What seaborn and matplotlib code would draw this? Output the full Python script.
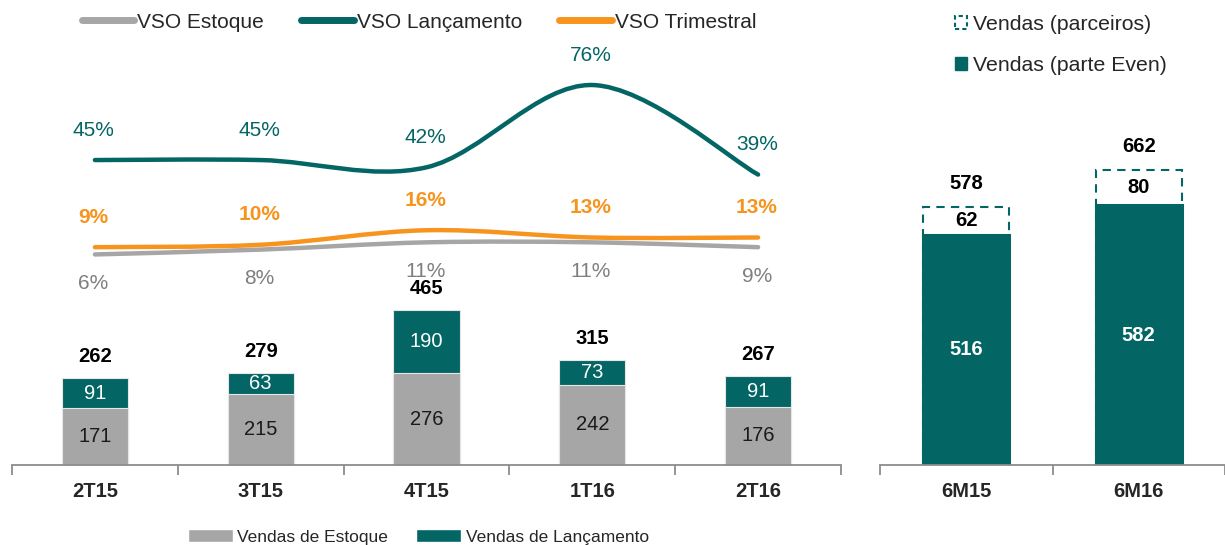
import numpy as np
import pandas as pd
import matplotlib
matplotlib.use("Agg")
import matplotlib.pyplot as plt
import seaborn as sns
from matplotlib.path import Path
from matplotlib.patches import PathPatch, Patch
from matplotlib.lines import Line2D

# --- data ---
quarters = ["2T15", "3T15", "4T15", "1T16", "2T16"]
vendas_estoque = [171, 215, 276, 242, 176]
vendas_lancamento = [91, 63, 190, 73, 91]
vendas_total = [262, 279, 465, 315, 267]   # as printed (rounded) in the source
vso_estoque = [6, 8, 11, 11, 9]
vso_lancamento = [45, 45, 42, 76, 39]
vso_trimestral = [9, 10, 16, 13, 13]

semesters = ["6M15", "6M16"]
vendas_even = [516, 582]
vendas_parceiros = [62, 80]
vendas_semestre = [578, 662]

TEAL = "#036564"
GRAY = "#A6A6A6"
ORANGE = "#F7941D"
PCT_GRAY = "#7F7F7F"

sns.set_style("white")
plt.rcParams["font.family"] = ["Liberation Sans", "DejaVu Sans"]

W, H = 1225, 545
fig = plt.figure(figsize=(W / 100, H / 100), dpi=100)


def fig_box(x0, y_top, x1, y_bottom):
    return [x0 / W, 1 - y_bottom / H, (x1 - x0) / W, (y_bottom - y_top) / H]


def smooth_line(ax, xs, ys, color, lw, z):
    # Excel-like smoothed line: Catmull-Rom segments as cubic Bezier curves
    n = len(xs)
    verts = [(xs[0], ys[0])]
    codes = [Path.MOVETO]
    for i in range(n - 1):
        a = max(i - 1, 0)
        b = min(i + 2, n - 1)
        c1 = (xs[i] + (xs[i + 1] - xs[a]) / 6, ys[i] + (ys[i + 1] - ys[a]) / 6)
        c2 = (xs[i + 1] - (xs[b] - xs[i]) / 6, ys[i + 1] - (ys[b] - ys[i]) / 6)
        verts += [c1, c2, (xs[i + 1], ys[i + 1])]
        codes += [Path.CURVE4] * 3
    patch = PathPatch(Path(verts, codes), facecolor="none", edgecolor=color,
                      lw=lw, capstyle="round", joinstyle="round", zorder=z)
    ax.add_patch(patch)


def style_cat_axis(ax, n):
    for s in ["top", "right", "left"]:
        ax.spines[s].set_visible(False)
    ax.spines["bottom"].set_color("#8C8C8C")
    ax.spines["bottom"].set_linewidth(1.3)
    ax.set_yticks([])
    ax.set_xticks(range(n))
    ax.set_xticks(np.arange(-0.5, n + 0.5, 1), minor=True)
    ax.tick_params(axis="x", which="major", bottom=False, pad=9, labelsize=14.5)
    ax.tick_params(axis="x", which="minor", bottom=True, length=7, width=1.3,
                   color="#8C8C8C", direction="out")
    for t in ax.get_xticklabels():
        t.set_fontweight("bold")
    ax.set_xlabel("")
    ax.set_ylabel("")


# --- left panel: quarterly sales + VSO ---
df_q = pd.DataFrame({
    "quarter": quarters,
    "estoque": vendas_estoque,
    "lancamento": vendas_lancamento,
    "total": vendas_total,
})
df_q["stack"] = df_q["estoque"] + df_q["lancamento"]

ax = fig.add_axes(fig_box(12, 10, 841, 465))
sns.barplot(data=df_q, x="quarter", y="stack", color=TEAL, saturation=1,
            width=0.4, edgecolor="#E6E6E6", linewidth=0.8, ax=ax)
sns.barplot(data=df_q, x="quarter", y="estoque", color=GRAY, saturation=1,
            width=0.4, edgecolor="#E6E6E6", linewidth=0.8, ax=ax)
ax.set_xlim(-0.5, 4.5)
ax.set_ylim(0, 1370)
style_cat_axis(ax, len(quarters))

for i, row in df_q.iterrows():
    ax.text(i, row["estoque"] / 2, str(row["estoque"]), ha="center", va="center",
            fontsize=14.5, color="#1A1A1A")
    ax.text(i, row["estoque"] + row["lancamento"] / 2, str(row["lancamento"]),
            ha="center", va="center", fontsize=14.5, color="white")
    ax.annotate(str(row["total"]), (i, row["stack"]), xytext=(0, 15.5),
                textcoords="offset points", ha="center", va="center",
                fontsize=14.5, fontweight="bold", color="black")

ax2 = ax.twinx()
ax2.set_ylim(-81, 107)
ax2.set_xlim(-0.5, 4.5)
ax2.axis("off")
xs = np.arange(len(quarters))
smooth_line(ax2, xs, vso_estoque, GRAY, 3.2, 3)
smooth_line(ax2, xs, vso_trimestral, ORANGE, 3.2, 4)
smooth_line(ax2, xs, vso_lancamento, TEAL, 3.2, 5)

for i in xs:
    ax2.annotate(f"{vso_lancamento[i]}%", (i, vso_lancamento[i]), xytext=(-1, 21.5),
                 textcoords="offset points", ha="center", va="center",
                 fontsize=15, color=TEAL)
    ax2.annotate(f"{vso_trimestral[i]}%", (i, vso_trimestral[i]), xytext=(-1, 21.5),
                 textcoords="offset points", ha="center", va="center",
                 fontsize=15, fontweight="bold", color=ORANGE)
    ax2.annotate(f"{vso_estoque[i]}%", (i, vso_estoque[i]), xytext=(-1, -21),
                 textcoords="offset points", ha="center", va="center",
                 fontsize=15, color=PCT_GRAY)

line_handles = [
    Line2D([], [], color=GRAY, lw=5, solid_capstyle="round"),
    Line2D([], [], color=TEAL, lw=5, solid_capstyle="round"),
    Line2D([], [], color=ORANGE, lw=5, solid_capstyle="round"),
]
fig.legend(line_handles, ["VSO Estoque", "VSO Lançamento", "VSO Trimestral"],
           loc="center left", bbox_to_anchor=(82 / W, 1 - 22 / H), ncol=3,
           frameon=False, fontsize=15, handlelength=2.5, handletextpad=0.15,
           columnspacing=1.8, borderaxespad=0, borderpad=0)

bar_handles = [Patch(facecolor=GRAY), Patch(facecolor=TEAL)]
fig.legend(bar_handles, ["Vendas de Estoque", "Vendas de Lançamento"],
           loc="center left", bbox_to_anchor=(188 / W, 1 - 537 / H), ncol=2,
           frameon=False, fontsize=12.5, handlelength=2.6, handleheight=0.7,
           handletextpad=0.25, columnspacing=1.6, borderaxespad=0, borderpad=0)

# --- right panel: semester sales ---
df_s = pd.DataFrame({
    "semester": semesters,
    "even": vendas_even,
    "parceiros": vendas_parceiros,
    "total": vendas_semestre,
})
df_s["stack"] = df_s["even"] + df_s["parceiros"]

axr = fig.add_axes(fig_box(880, 10, 1225, 465))
sns.barplot(data=df_s, x="semester", y="stack", color="white", saturation=1,
            width=0.5, edgecolor=TEAL, linewidth=1.5, linestyle=(0, (4, 3)), ax=axr)
sns.barplot(data=df_s, x="semester", y="even", color=TEAL, saturation=1,
            width=0.5, edgecolor=TEAL, linewidth=2.2, ax=axr)
axr.set_xlim(-0.5, -0.5 + 345 / 178)
axr.set_ylim(0, 1020)
style_cat_axis(axr, len(semesters))

for i, row in df_s.iterrows():
    axr.text(i, row["even"] / 2, str(row["even"]), ha="center", va="center",
             fontsize=14.5, fontweight="bold", color="white")
    axr.text(i, row["even"] + row["parceiros"] / 2, str(row["parceiros"]),
             ha="center", va="center", fontsize=14.5, fontweight="bold", color="black")
    axr.annotate(str(row["total"]), (i, row["stack"]), xytext=(0, 17),
                 textcoords="offset points", ha="center", va="center",
                 fontsize=14.5, fontweight="bold", color="black")

sem_handles = [
    Patch(facecolor="white", edgecolor=TEAL, linestyle=(0, (2, 1.5)), linewidth=1.5),
    Patch(facecolor=TEAL, edgecolor=TEAL),
]
fig.legend(sem_handles, ["Vendas (parceiros)", "Vendas (parte Even)"],
           loc="upper left", bbox_to_anchor=(955 / W, 1 - 15 / H), ncol=1,
           frameon=False, fontsize=15.3, handlelength=0.55, handleheight=0.55,
           handletextpad=0.3, labelspacing=1.05, borderaxespad=0, borderpad=0)

fig.savefig("out.png", dpi=100)
